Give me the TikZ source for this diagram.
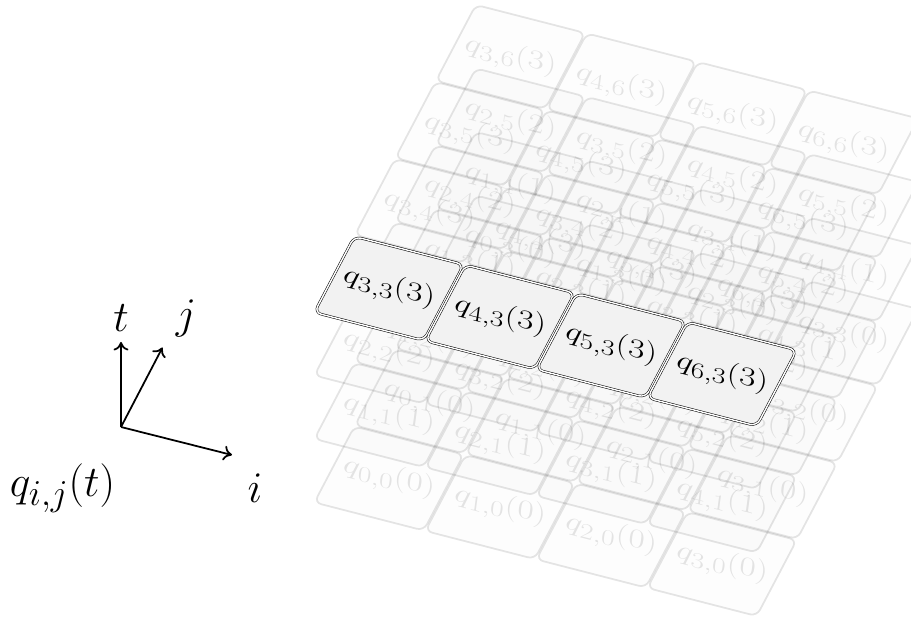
\documentclass[tikz,border=0pt]{standalone}
\usepackage{tikz}
\usetikzlibrary{arrows.meta}

\begin{document}
\begin{tikzpicture}[tile/.style={rectangle,transform shape,minimum width=1.11cm,minimum height=1.48cm,inner sep=0pt,rounded corners=1.4mm},
                    faded tile/.style={tile,draw=black,fill=black!30,line width=1pt,draw opacity=0.1,fill opacity=0.03},
                    active tile/.style={tile,draw=black,line width=0.3pt,double=white,double distance=0.8pt,fill=black!5},
                    tile text/.style={transform shape,cm={0.798,-0.205,0.08,0.6,(0,0)},inner sep=0pt,font=\Huge},
                    faded text/.style={tile text,text opacity=0.1},
                    axis arrow/.style={-{To[length=1.7mm,width=3mm]},line width=1pt},
                    axis label/.style={font=\Huge},
                   ]
  \useasboundingbox (0,0) rectangle (18.22,12.42);

  % stacked layers, t = 0 at the bottom
  \foreach \t in {0,...,3} {
    \pgfmathsetmacro{\layery}{2.85+1.27*\t}
    \begin{scope}[cm={1.97,-0.506,0.54,1.027,(7.78,\layery)}]
      \foreach \i in {0,...,3} {
        \foreach \j in {0,...,3} {
          \pgfmathtruncatemacro{\qi}{\i+\t}
          \pgfmathtruncatemacro{\qj}{\j+\t}
          \node[faded tile] (q-\qi-\qj-\t) at (\i*1.127,\j*1.5) {};
        }
      }
    \end{scope}
    \foreach \i in {0,...,3} {
      \foreach \j in {0,...,3} {
        \pgfmathtruncatemacro{\qi}{\i+\t}
        \pgfmathtruncatemacro{\qj}{\j+\t}
        \node[faded text] (label-\qi-\qj-\t) at (q-\qi-\qj-\t.center) {$q_{\qi,\qj}(\t)$};
      }
    }
  }

  % the row that is highlighted
  \begin{scope}[cm={1.97,-0.506,0.54,1.027,(7.78,6.65)}]
    \foreach \i in {0,...,3} {
      \pgfmathtruncatemacro{\qi}{\i+3}
      \node[active tile] (active-\qi) at (\i*1.127,0) {};
    }
  \end{scope}
  \foreach \i in {3,...,6} {
    \node[tile text] (active-label-\i) at (active-\i.center) {$q_{\i,3}(3)$};
  }

  % axes
  \coordinate (origin) at (2.42,3.88);
  \coordinate (t-tip) at (2.42,5.58);
  \coordinate (j-tip) at (3.25,5.47);
  \coordinate (i-tip) at (4.64,3.32);
  \node[axis label] (t-label) at (2.42,6.05) {$t$};
  \node[axis label] (j-label) at (3.72,6.05) {$j$};
  \node[axis label] (i-label) at (5.10,2.65) {$i$};
  \node[axis label] (q-label) at (1.25,2.65) {$q_{i,j}(t)$};
  \draw[axis arrow] (origin) -- (t-tip);
  \draw[axis arrow] (origin) -- (j-tip);
  \draw[axis arrow] (origin) -- (i-tip);
\end{tikzpicture}
\end{document}
